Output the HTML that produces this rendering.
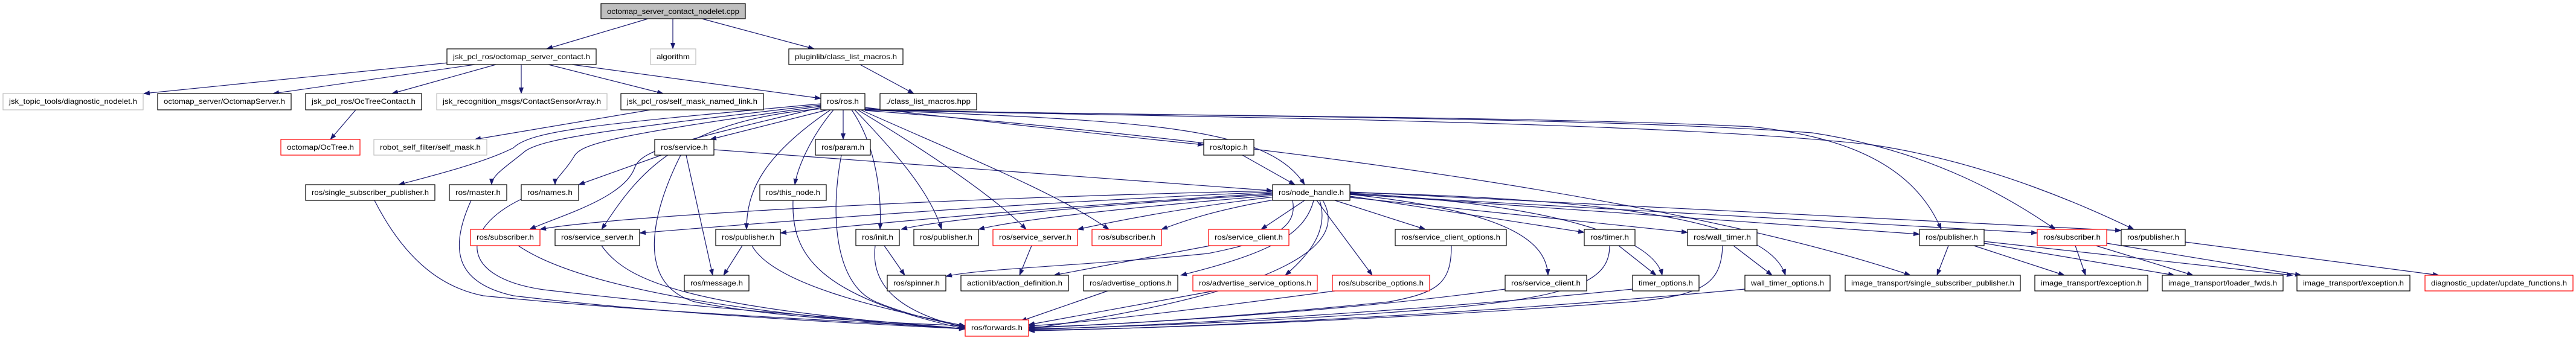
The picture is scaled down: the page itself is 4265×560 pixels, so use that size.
<!DOCTYPE html>
<html><head><meta charset="utf-8"><style>
html,body{margin:0;padding:0;background:#fff;}
svg{display:block;}
text{font-family:"Liberation Sans",sans-serif;font-size:12px;fill:#000;}
.e{fill:none;stroke:#191970;stroke-width:1.2;marker-end:url(#a);}
.n rect{fill:#fff;stroke:#000;stroke-width:1.2;}
.g rect{fill:#fff;stroke:#bfbfbf;stroke-width:1.2;}
.r rect{fill:#fff;stroke:#ff0000;stroke-width:1.2;}
</style></head><body>
<svg width="4265" height="560" viewBox="0 0 4265 560" xmlns="http://www.w3.org/2000/svg">
<defs><marker id="a" markerUnits="userSpaceOnUse" markerWidth="11" markerHeight="8" refX="10" refY="4" orient="auto"><path d="M0,0 L11,4 L0,8 z" fill="#191970"/></marker></defs>
<g>
<path class="e" d="M1073,31 L905,81"/>
<path class="e" d="M1114,31 L1114,81"/>
<path class="e" d="M1162,31 L1348,81"/>
<path class="e" d="M742,104 L238,155"/>
<path class="e" d="M786,107 L452,155"/>
<path class="e" d="M821,107 L649,155"/>
<path class="e" d="M863,107 L863,155"/>
<path class="e" d="M908,107 L1098,155"/>
<path class="e" d="M947,107 L1359,163"/>
<path class="e" d="M1424,107 L1513,155"/>
<path class="e" d="M589,182 L547,231"/>
<path class="e" d="M1077,182 L786,231"/>
<path class="e" d="M1359,172 C1000,205 880,215 850,245 C800,270 720,290 660,306"/>
<path class="e" d="M1359,174 C1000,215 900,230 870,250 C840,275 814,290 814,306"/>
<path class="e" d="M1359,176 C1000,225 960,240 950,260 C935,285 919,295 919,306"/>
<path class="e" d="M1359,178 C1100,240 1060,250 1050,280 C1030,330 920,360 877,380"/>
<path class="e" d="M1362,180 C1110,200 1050,300 996,380"/>
<path class="e" d="M1370,182 L1176,231"/>
<path class="e" d="M1396,182 L1396,231"/>
<path class="e" d="M1432,178 C1700,210 1900,230 1993,240"/>
<path class="e" d="M1380,182 C1340,230 1320,280 1316,306"/>
<path class="e" d="M1375,182 C1260,260 1236,320 1236,380"/>
<path class="e" d="M1410,182 C1450,240 1460,320 1457,380"/>
<path class="e" d="M1415,182 C1490,260 1540,320 1559,380"/>
<path class="e" d="M1420,182 C1550,260 1650,330 1699,380"/>
<path class="e" d="M1425,182 C1600,260 1750,320 1836,380"/>
<path class="e" d="M1432,182 C1900,200 2100,210 2160,306"/>
<path class="e" d="M1432,180 C1700,192 2500,190 2900,210 C3100,230 3180,300 3214,380"/>
<path class="e" d="M1432,180 C1700,192 2600,190 3000,220 C3200,250 3330,330 3403,380"/>
<path class="e" d="M1432,181 C1700,192 2700,195 3100,240 C3300,270 3470,350 3533,380"/>
<path class="e" d="M1432,183 C1800,210 2700,300 3163,456"/>
<path class="e" d="M2057,257 L2144,306"/>
<path class="e" d="M1182,248 L2107,316"/>
<path class="e" d="M1095,257 L958,306"/>
<path class="e" d="M1136,257 L1180,456"/>
<path class="e" d="M1127,257 C1080,350 1050,470 1150,500 C1300,530 1500,535 1598,540"/>
<path class="e" d="M1393,257 C1375,350 1380,470 1450,500 C1510,525 1570,535 1598,542"/>
<path class="e" d="M1313,332 C1310,420 1350,490 1598,545"/>
<path class="e" d="M2107,316 C1500,330 1000,360 894,380"/>
<path class="e" d="M2107,318 C1600,340 1200,375 1059,386"/>
<path class="e" d="M2107,320 C1700,345 1400,375 1292,386"/>
<path class="e" d="M2107,322 C1800,340 1550,365 1492,380"/>
<path class="e" d="M2107,324 C1850,345 1680,365 1620,380"/>
<path class="e" d="M2110,326 C1950,345 1830,370 1784,380"/>
<path class="e" d="M2115,330 C2000,350 1950,370 1923,380"/>
<path class="e" d="M2160,332 L2088,380"/>
<path class="e" d="M2140,332 C2150,380 2100,400 2000,420 C1800,440 1620,445 1566,458"/>
<path class="e" d="M2175,332 C2160,390 2100,420 1955,456"/>
<path class="e" d="M2185,332 C2200,380 2170,420 2128,456"/>
<path class="e" d="M2180,332 L2272,456"/>
<path class="e" d="M2210,332 L2360,380"/>
<path class="e" d="M2235,322 C2500,350 2560,400 2563,456"/>
<path class="e" d="M2235,325 L2623,385"/>
<path class="e" d="M2235,327 L2794,385"/>
<path class="e" d="M2235,320 C2600,340 2740,400 2752,456"/>
<path class="e" d="M2235,319 C2700,330 2930,370 2956,456"/>
<path class="e" d="M2235,321 L3178,388"/>
<path class="e" d="M2235,322 L3373,386"/>
<path class="e" d="M2235,318 L3512,382"/>
<path class="e" d="M2190,332 C2230,400 2150,480 1703,545"/>
<path class="e" d="M1708,407 L1688,456"/>
<path class="e" d="M2004,407 L1745,456"/>
<path class="e" d="M1229,407 L1198,456"/>
<path class="e" d="M1245,407 C1280,470 1450,510 1598,540"/>
<path class="e" d="M1464,407 L1498,456"/>
<path class="e" d="M1449,407 C1440,480 1500,520 1598,543"/>
<path class="e" d="M620,332 C680,450 750,480 800,490 C1100,520 1400,530 1598,545"/>
<path class="e" d="M780,332 C740,420 760,470 850,490 C1100,520 1400,535 1598,545"/>
<path class="e" d="M863,330 C760,380 760,460 900,480 C1200,515 1450,530 1598,545"/>
<path class="e" d="M858,407 C950,470 1200,520 1598,545"/>
<path class="e" d="M996,407 C1040,470 1150,510 1598,545"/>
<path class="e" d="M1834,482 L1690,532"/>
<path class="e" d="M2010,482 L1703,538"/>
<path class="e" d="M2210,482 C2000,510 1800,535 1703,540"/>
<path class="e" d="M2403,407 C2403,470 2380,485 2300,500 C2000,530 1800,540 1703,542"/>
<path class="e" d="M2492,479 C2200,520 1800,540 1703,543"/>
<path class="e" d="M2665,407 C2665,460 2620,490 2400,510 C2100,535 1800,543 1703,545"/>
<path class="e" d="M2703,479 C2300,520 1900,540 1703,546"/>
<path class="e" d="M2852,407 C2850,470 2820,490 2700,500 C2300,530 1900,545 1703,547"/>
<path class="e" d="M2889,479 C2400,525 1900,545 1703,548"/>
<path class="e" d="M2680,407 L2742,456"/>
<path class="e" d="M2870,407 L2934,456"/>
<path class="e" d="M3226,407 L3207,456"/>
<path class="e" d="M3268,407 L3418,456"/>
<path class="e" d="M3285,403 L3600,456"/>
<path class="e" d="M3285,400 L3796,456"/>
<path class="e" d="M3436,407 L3453,456"/>
<path class="e" d="M3470,407 L3631,456"/>
<path class="e" d="M3488,403 L3810,456"/>
<path class="e" d="M3618,401 L4038,456"/>
</g>
<g class="n"><rect x="995" y="6" width="239" height="25" style="fill:#bfbfbf"/><text x="1114.5" y="23" text-anchor="middle" textLength="219" lengthAdjust="spacingAndGlyphs">octomap_server_contact_nodelet.cpp</text></g>
<g class="n"><rect x="740" y="81" width="247" height="26"/><text x="863.5" y="98" text-anchor="middle" textLength="227" lengthAdjust="spacingAndGlyphs">jsk_pcl_ros/octomap_server_contact.h</text></g>
<g class="g"><rect x="1077" y="81" width="75" height="26"/><text x="1114.5" y="98" text-anchor="middle" textLength="55" lengthAdjust="spacingAndGlyphs">algorithm</text></g>
<g class="n"><rect x="1306" y="81" width="189" height="26"/><text x="1400.5" y="98" text-anchor="middle" textLength="169" lengthAdjust="spacingAndGlyphs">pluginlib/class_list_macros.h</text></g>
<g class="g"><rect x="5" y="155" width="232" height="27"/><text x="121" y="172" text-anchor="middle" textLength="212" lengthAdjust="spacingAndGlyphs">jsk_topic_tools/diagnostic_nodelet.h</text></g>
<g class="n"><rect x="261" y="155" width="221" height="27"/><text x="371.5" y="172" text-anchor="middle" textLength="201" lengthAdjust="spacingAndGlyphs">octomap_server/OctomapServer.h</text></g>
<g class="n"><rect x="506" y="155" width="192" height="27"/><text x="602" y="172" text-anchor="middle" textLength="172" lengthAdjust="spacingAndGlyphs">jsk_pcl_ros/OcTreeContact.h</text></g>
<g class="g"><rect x="723" y="155" width="282" height="27"/><text x="864" y="172" text-anchor="middle" textLength="262" lengthAdjust="spacingAndGlyphs">jsk_recognition_msgs/ContactSensorArray.h</text></g>
<g class="n"><rect x="1028" y="155" width="236" height="27"/><text x="1146" y="172" text-anchor="middle" textLength="216" lengthAdjust="spacingAndGlyphs">jsk_pcl_ros/self_mask_named_link.h</text></g>
<g class="n"><rect x="1359" y="155" width="73" height="27"/><text x="1395.5" y="172" text-anchor="middle" textLength="53" lengthAdjust="spacingAndGlyphs">ros/ros.h</text></g>
<g class="n"><rect x="1457" y="155" width="160" height="27"/><text x="1537" y="172" text-anchor="middle" textLength="140" lengthAdjust="spacingAndGlyphs">./class_list_macros.hpp</text></g>
<g class="r"><rect x="465" y="231" width="131" height="26"/><text x="530.5" y="248" text-anchor="middle" textLength="111" lengthAdjust="spacingAndGlyphs">octomap/OcTree.h</text></g>
<g class="g"><rect x="619" y="231" width="187" height="26"/><text x="712.5" y="248" text-anchor="middle" textLength="167" lengthAdjust="spacingAndGlyphs">robot_self_filter/self_mask.h</text></g>
<g class="n"><rect x="1084" y="231" width="98" height="26"/><text x="1133" y="248" text-anchor="middle" textLength="78" lengthAdjust="spacingAndGlyphs">ros/service.h</text></g>
<g class="n"><rect x="1350" y="231" width="91" height="26"/><text x="1395.5" y="248" text-anchor="middle" textLength="71" lengthAdjust="spacingAndGlyphs">ros/param.h</text></g>
<g class="n"><rect x="1993" y="231" width="83" height="26"/><text x="2034.5" y="248" text-anchor="middle" textLength="63" lengthAdjust="spacingAndGlyphs">ros/topic.h</text></g>
<g class="n"><rect x="506" y="306" width="214" height="26"/><text x="613" y="323" text-anchor="middle" textLength="194" lengthAdjust="spacingAndGlyphs">ros/single_subscriber_publisher.h</text></g>
<g class="n"><rect x="744" y="306" width="95" height="26"/><text x="791.5" y="323" text-anchor="middle" textLength="75" lengthAdjust="spacingAndGlyphs">ros/master.h</text></g>
<g class="n"><rect x="863" y="306" width="95" height="26"/><text x="910.5" y="323" text-anchor="middle" textLength="75" lengthAdjust="spacingAndGlyphs">ros/names.h</text></g>
<g class="n"><rect x="1258" y="306" width="110" height="26"/><text x="1313" y="323" text-anchor="middle" textLength="90" lengthAdjust="spacingAndGlyphs">ros/this_node.h</text></g>
<g class="n"><rect x="2107" y="306" width="128" height="26"/><text x="2171" y="323" text-anchor="middle" textLength="108" lengthAdjust="spacingAndGlyphs">ros/node_handle.h</text></g>
<g class="r"><rect x="779" y="380" width="115" height="27"/><text x="836.5" y="397" text-anchor="middle" textLength="95" lengthAdjust="spacingAndGlyphs">ros/subscriber.h</text></g>
<g class="n"><rect x="919" y="380" width="140" height="27"/><text x="989" y="397" text-anchor="middle" textLength="120" lengthAdjust="spacingAndGlyphs">ros/service_server.h</text></g>
<g class="n"><rect x="1185" y="380" width="107" height="27"/><text x="1238.5" y="397" text-anchor="middle" textLength="87" lengthAdjust="spacingAndGlyphs">ros/publisher.h</text></g>
<g class="n"><rect x="1417" y="380" width="72" height="27"/><text x="1453" y="397" text-anchor="middle" textLength="52" lengthAdjust="spacingAndGlyphs">ros/init.h</text></g>
<g class="n"><rect x="1513" y="380" width="107" height="27"/><text x="1566.5" y="397" text-anchor="middle" textLength="87" lengthAdjust="spacingAndGlyphs">ros/publisher.h</text></g>
<g class="r"><rect x="1644" y="380" width="140" height="27"/><text x="1714" y="397" text-anchor="middle" textLength="120" lengthAdjust="spacingAndGlyphs">ros/service_server.h</text></g>
<g class="r"><rect x="1808" y="380" width="115" height="27"/><text x="1865.5" y="397" text-anchor="middle" textLength="95" lengthAdjust="spacingAndGlyphs">ros/subscriber.h</text></g>
<g class="r"><rect x="2001" y="380" width="133" height="27"/><text x="2067.5" y="397" text-anchor="middle" textLength="113" lengthAdjust="spacingAndGlyphs">ros/service_client.h</text></g>
<g class="n"><rect x="2310" y="380" width="184" height="27"/><text x="2402" y="397" text-anchor="middle" textLength="164" lengthAdjust="spacingAndGlyphs">ros/service_client_options.h</text></g>
<g class="n"><rect x="2623" y="380" width="84" height="27"/><text x="2665" y="397" text-anchor="middle" textLength="64" lengthAdjust="spacingAndGlyphs">ros/timer.h</text></g>
<g class="n"><rect x="2794" y="380" width="115" height="27"/><text x="2851.5" y="397" text-anchor="middle" textLength="95" lengthAdjust="spacingAndGlyphs">ros/wall_timer.h</text></g>
<g class="n"><rect x="3178" y="380" width="107" height="27"/><text x="3231.5" y="397" text-anchor="middle" textLength="87" lengthAdjust="spacingAndGlyphs">ros/publisher.h</text></g>
<g class="r"><rect x="3373" y="380" width="115" height="27"/><text x="3430.5" y="397" text-anchor="middle" textLength="95" lengthAdjust="spacingAndGlyphs">ros/subscriber.h</text></g>
<g class="n"><rect x="3512" y="380" width="106" height="27"/><text x="3565" y="397" text-anchor="middle" textLength="86" lengthAdjust="spacingAndGlyphs">ros/publisher.h</text></g>
<g class="n"><rect x="1133" y="456" width="107" height="26"/><text x="1186.5" y="473" text-anchor="middle" textLength="87" lengthAdjust="spacingAndGlyphs">ros/message.h</text></g>
<g class="n"><rect x="1469" y="456" width="97" height="26"/><text x="1517.5" y="473" text-anchor="middle" textLength="77" lengthAdjust="spacingAndGlyphs">ros/spinner.h</text></g>
<g class="n"><rect x="1591" y="456" width="178" height="26"/><text x="1680" y="473" text-anchor="middle" textLength="158" lengthAdjust="spacingAndGlyphs">actionlib/action_definition.h</text></g>
<g class="n"><rect x="1794" y="456" width="156" height="26"/><text x="1872" y="473" text-anchor="middle" textLength="136" lengthAdjust="spacingAndGlyphs">ros/advertise_options.h</text></g>
<g class="r"><rect x="1975" y="456" width="206" height="26"/><text x="2078" y="473" text-anchor="middle" textLength="186" lengthAdjust="spacingAndGlyphs">ros/advertise_service_options.h</text></g>
<g class="r"><rect x="2206" y="456" width="161" height="26"/><text x="2286.5" y="473" text-anchor="middle" textLength="141" lengthAdjust="spacingAndGlyphs">ros/subscribe_options.h</text></g>
<g class="n"><rect x="2492" y="456" width="135" height="26"/><text x="2559.5" y="473" text-anchor="middle" textLength="115" lengthAdjust="spacingAndGlyphs">ros/service_client.h</text></g>
<g class="n"><rect x="2703" y="456" width="110" height="26"/><text x="2758" y="473" text-anchor="middle" textLength="90" lengthAdjust="spacingAndGlyphs">timer_options.h</text></g>
<g class="n"><rect x="2889" y="456" width="141" height="26"/><text x="2959.5" y="473" text-anchor="middle" textLength="121" lengthAdjust="spacingAndGlyphs">wall_timer_options.h</text></g>
<g class="n"><rect x="3055" y="456" width="290" height="26"/><text x="3200" y="473" text-anchor="middle" textLength="270" lengthAdjust="spacingAndGlyphs">image_transport/single_subscriber_publisher.h</text></g>
<g class="n"><rect x="3369" y="456" width="187" height="26"/><text x="3462.5" y="473" text-anchor="middle" textLength="167" lengthAdjust="spacingAndGlyphs">image_transport/exception.h</text></g>
<g class="n"><rect x="3580" y="456" width="200" height="26"/><text x="3680" y="473" text-anchor="middle" textLength="180" lengthAdjust="spacingAndGlyphs">image_transport/loader_fwds.h</text></g>
<g class="n"><rect x="3803" y="456" width="187" height="26"/><text x="3896.5" y="473" text-anchor="middle" textLength="167" lengthAdjust="spacingAndGlyphs">image_transport/exception.h</text></g>
<g class="r"><rect x="4015" y="456" width="245" height="26"/><text x="4137.5" y="473" text-anchor="middle" textLength="225" lengthAdjust="spacingAndGlyphs">diagnostic_updater/update_functions.h</text></g>
<g class="r"><rect x="1598" y="530" width="105" height="27"/><text x="1650.5" y="547" text-anchor="middle" textLength="85" lengthAdjust="spacingAndGlyphs">ros/forwards.h</text></g>
</svg>
</body></html>
